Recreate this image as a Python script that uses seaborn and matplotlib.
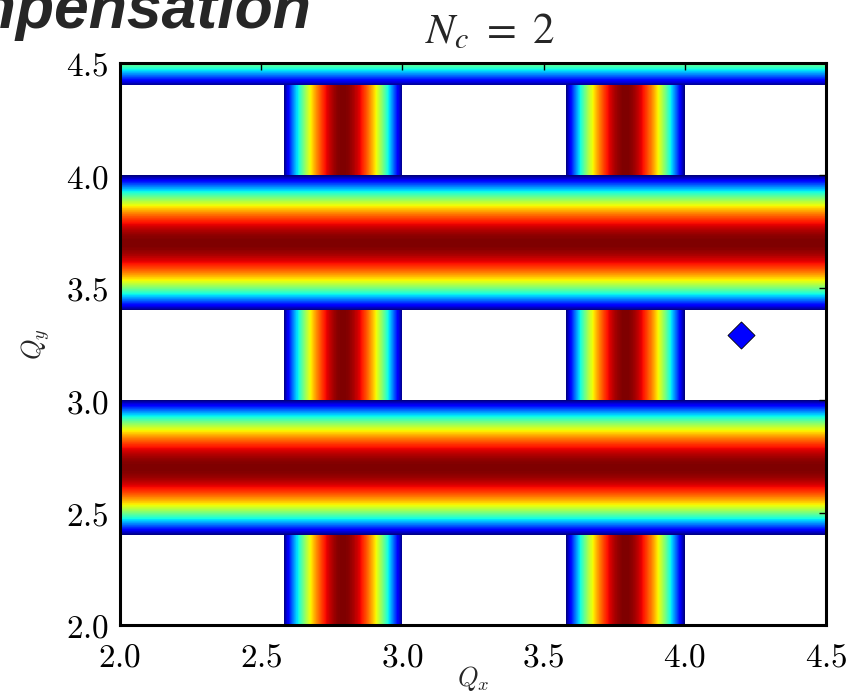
import numpy as np
import matplotlib
matplotlib.use("Agg")
import matplotlib.pyplot as plt
import seaborn as sns

# Resonance stop-bands in tune space (centre and half width)
qy_lines = [2.7, 3.7, 4.7]      # horizontal bands, centre Q_y
qy_half_width = 0.30
qx_lines = [2.79, 3.79]         # vertical bands, centre Q_x
qx_half_width = 0.21

# Working point
wp_qx = [4.2]
wp_qy = [3.29]

x_ticks = [2.0, 2.5, 3.0, 3.5, 4.0, 4.5]
y_ticks = [2.0, 2.5, 3.0, 3.5, 4.0, 4.5]
q_min, q_max = 2.0, 4.5

sns.set_theme(style="white")
plt.rcParams["font.family"] = ["DejaVu Sans"]
plt.rcParams["mathtext.fontset"] = "cm"


def band_strength(q, centre, half):
    """Strength across a stop-band: peaked in the middle, falling to zero at the edges."""
    d = np.abs(q - centre) / half
    v = np.clip(np.cos(0.5 * np.pi * d), 0.0, 1.0)
    return np.where(d <= 1.0, v, np.nan)


n = 1400
qx = np.linspace(q_min, q_max, n)
qy = np.linspace(q_min, q_max, n)
QX, QY = np.meshgrid(qx, qy)

field = np.full(QX.shape, np.nan)
for c in qx_lines:
    v = band_strength(QX, c, qx_half_width)
    field = np.where(np.isnan(v), field, v)
for c in qy_lines:
    v = band_strength(QY, c, qy_half_width)
    field = np.where(np.isnan(v), field, v)

fig = plt.figure(figsize=(8.6, 6.95), dpi=100)
ax = fig.add_axes([120 / 860, 1 - 625 / 695, 706 / 860, 562 / 695])

cmap = plt.get_cmap("jet").copy()
cmap.set_bad("white")
ax.imshow(np.ma.masked_invalid(field), extent=[q_min, q_max, q_min, q_max],
          origin="lower", cmap=cmap, vmin=0, vmax=1, aspect="auto",
          interpolation="nearest")

sns.scatterplot(x=wp_qx, y=wp_qy, marker="D", s=190, color="#0000ff",
                edgecolor="black", linewidth=0.6, ax=ax, zorder=5)

ax.set_xlim(q_min, q_max)
ax.set_ylim(q_min, q_max)
ax.set_xticks(x_ticks, labels=[f"${t:.1f}$" for t in x_ticks], fontsize=24)
ax.set_yticks(y_ticks, labels=[f"${t:.1f}$" for t in y_ticks], fontsize=24)
ax.tick_params(direction="in", top=True, right=True, length=5, width=1,
               pad=8, colors="black")
ax.tick_params(axis="x", pad=11)
for side in ax.spines.values():
    side.set_color("black")
    side.set_linewidth(2.2)

ax.set_xlabel(r"$Q_x$", fontsize=19)
ax.xaxis.set_label_coords(0.5, -0.07)
ax.set_ylabel(r"$Q_y$", fontsize=19)
ax.yaxis.set_label_coords(-0.097, 0.5)

fig.text(490 / 860, 1 - 43 / 695, r"$N_c\ =\ 2$", ha="center", va="baseline",
         fontsize=31, math_fontfamily="stix")
fig.text(312 / 860, 1 - 28 / 695, "Compensation", ha="right", va="baseline",
         fontsize=45, fontweight="bold", fontstyle="italic",
         family="Liberation Sans")

fig.savefig("out.png", dpi=100)
